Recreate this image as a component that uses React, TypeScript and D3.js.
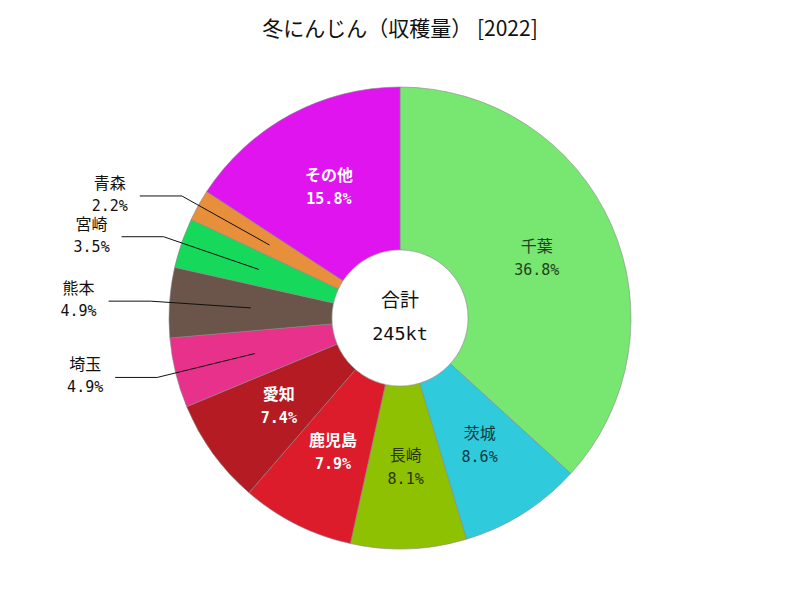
import React from "react";
import * as d3 from "d3";

const names = ["千葉", "茨城", "長崎", "鹿児島", "愛知", "埼玉", "熊本", "宮崎", "青森", "その他"];
const shares = [36.8, 8.6, 8.1, 7.9, 7.4, 4.9, 4.9, 3.5, 2.2, 15.8];
const colors = ["#77e771", "#2fcbdd", "#8fc103", "#dc1b2b", "#b41b22", "#e8318a", "#6b5449", "#16d85a", "#e88f3b", "#df14ee"];
const insideLabel = [true, true, true, true, true, false, false, false, false, true];
const whiteText = [false, false, false, true, true, false, false, false, false, true];
const title = "冬にんじん（収穫量） [2022]";
const totalLabel = "合計";
const totalValue = "245kt";

const W = 800, H = 600;
const cx = 400, cy = 318;
const R = 231, r0 = 68;
const FONT = "'DejaVu Sans Mono', 'Noto Sans CJK JP', monospace";

export default function App() {
  const pie = d3.pie<number>().sort(null).value((d) => d);
  const arcs = pie(shares);
  const arc = d3.arc<d3.PieArcDatum<number>>().innerRadius(r0).outerRadius(R);
  const midR = (R + r0) / 2;
  const pt = (a: number, rr: number) => [Math.sin(a) * rr, -Math.cos(a) * rr];

  return (
    <svg width={W} height={H} style={{ display: "block", position: "absolute", left: 0, top: 0 }}>
      <rect width={W} height={H} fill="#fff" />
      <text x={W / 2} y={36} textAnchor="middle" fontSize={21} fontFamily="'Noto Sans CJK JP', sans-serif" fill="#111">
        {title}
      </text>
      <g transform={`translate(${cx},${cy})`}>
        {arcs.map((a, i) => (
          <path key={i} d={arc(a) || ""} fill={colors[i]} stroke="#888" strokeWidth={0.6} />
        ))}
        <circle r={r0} fill="#fff" stroke="#999" strokeWidth={0.6} />
        {arcs.map((a, i) => {
          const m = (a.startAngle + a.endAngle) / 2;
          if (insideLabel[i]) {
            const [x, y] = pt(m, midR);
            const fill = whiteText[i] ? "#fff" : (d3.color(colors[i]) as d3.RGBColor).darker(3.5).formatHex();
            return (
              <g key={"l" + i} fontFamily={FONT} fill={fill} fontWeight={whiteText[i] ? "bold" : "normal"} textAnchor="middle">
                <text x={x} y={y - 6} fontSize={16}>{names[i]}</text>
                <text x={x} y={y + 17} fontSize={15}>{shares[i].toFixed(1)}%</text>
              </g>
            );
          }
          const [x1, y1] = pt(m, midR);
          const [x2, y2] = pt(m, 250);
          const x3 = x2 - 42;
          const tx = x3 - 30;
          return (
            <g key={"o" + i}>
              <polyline points={`${x1},${y1} ${x2},${y2} ${x3},${y2}`} fill="none" stroke="#111" strokeWidth={1} />
              <g fontFamily={FONT} fill="#111" textAnchor="middle">
                <text x={tx} y={y2 - 7} fontSize={16}>{names[i]}</text>
                <text x={tx} y={y2 + 15} fontSize={15}>{shares[i].toFixed(1)}%</text>
              </g>
            </g>
          );
        })}
        <g fontFamily={FONT} fill="#111" textAnchor="middle">
          <text x={0} y={-11} fontSize={19}>{totalLabel}</text>
          <text x={0} y={22} fontSize={18.5}>{totalValue}</text>
        </g>
      </g>
    </svg>
  );
}
